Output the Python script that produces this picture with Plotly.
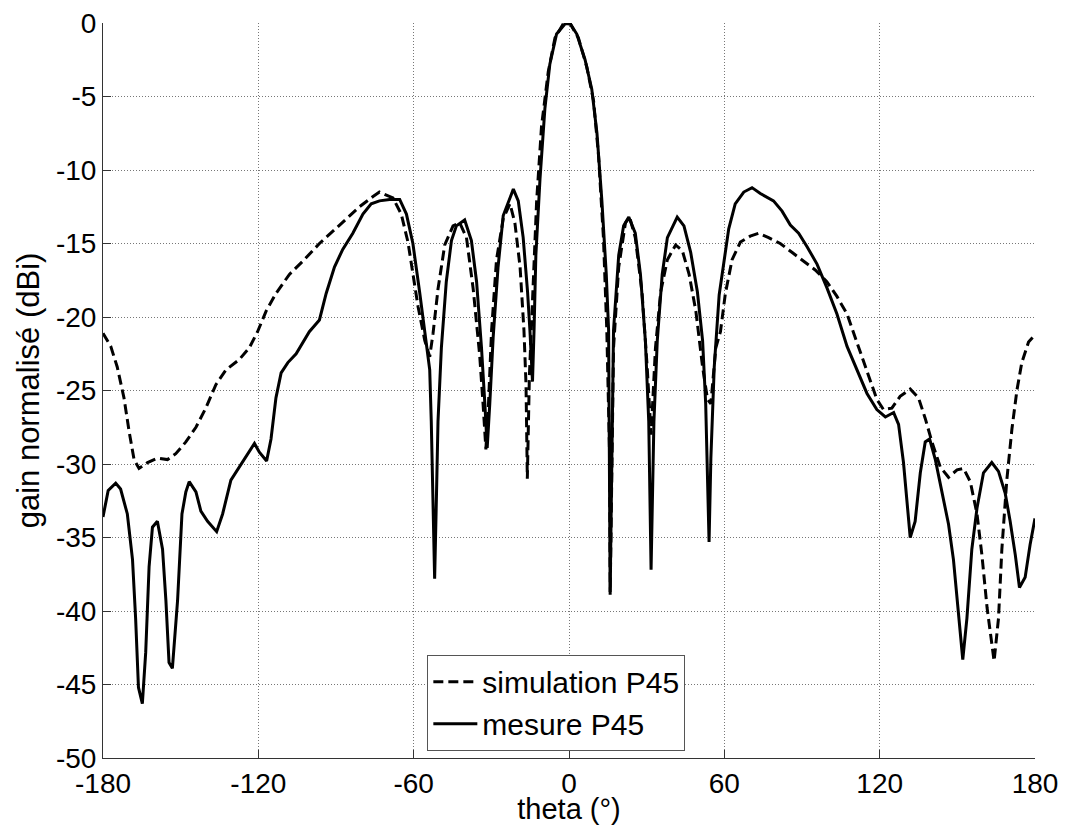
import plotly.graph_objects as go

# simulation P45 (dashed)
sim_theta = [
    -180, -177.0, -174.5, -171.9, -169.9, -168.0, -166.1, -162.8, -159.0, -155.1,
    -151.9, -148.0, -144.1, -140.3, -136.4, -132.5, -127.4, -123.5, -120.3, -117.0,
    -113.2, -108.0, -102.8, -96.4, -88.6, -80.9, -75.7, -73.2, -68.0, -64.8,
    -62.2, -59.7, -58.3, -55.7, -53.8, -52.5, -50.6, -48.0, -44.8, -42.2,
    -39.6, -37.0, -34.5, -33.2, -32.1, -31.1, -29.9, -28.0, -25.4, -22.8,
    -20.9, -18.9, -17.4, -16.6, -16.1, -15.3, -13.8, -12.5, -10.6, -8.0,
    -5.4, -2.2, 0.5, 3.6, 6.9, 9.5, 11.4, 13.3, 14.6, 15.7,
    15.9, 17.2, 19.2, 21.8, 23.4, 25.6, 28.2, 30.2, 31.7, 33.4,
    35.4, 38.0, 41.2, 43.8, 46.4, 49.0, 51.6, 53.5, 54.8, 56.7,
    58.5, 60.4, 63.0, 66.2, 70.0, 73.3, 77.1, 81.6, 86.1, 90.6,
    95.1, 99.6, 103.5, 107.4, 111.2, 115.1, 118.9, 121.5, 124.7, 127.9,
    131.8, 135.0, 137.6, 140.2, 143.4, 146.6, 149.9, 152.4, 155.0, 157.6,
    159.5, 161.5, 164.2, 165.9, 167.2, 169.1, 171.1, 173.0, 174.9, 177.5,
    180,
]
sim_gain = [
    -21.1, -22.0, -23.4, -25.5, -27.8, -29.7, -30.3, -29.9, -29.6, -29.7,
    -29.3, -28.5, -27.5, -26.2, -24.6, -23.6, -22.9, -22.1, -21.0, -19.6,
    -18.4, -17.1, -16.2, -15.0, -13.75, -12.5, -11.8, -11.5, -11.9, -13.0,
    -14.9, -17.7, -19.3, -21.6, -22.7, -21.1, -18.1, -15.1, -13.8, -13.6,
    -14.6, -18.1, -22.6, -25.9, -29.0, -25.9, -20.9, -16.1, -13.3, -12.3,
    -13.6, -16.6, -20.9, -24.6, -31.0, -24.0, -17.1, -12.1, -7.0, -3.3,
    -1.0, -0.05, -0.05, -1.0, -3.0, -5.3, -9.0, -14.6, -20.9, -29.6,
    -38.9, -22.1, -16.6, -13.6, -13.2, -14.6, -18.3, -23.4, -28.0, -22.1,
    -18.3, -16.1, -15.1, -15.5, -17.1, -19.6, -23.4, -25.6, -25.9, -22.1,
    -21.0, -18.4, -16.1, -14.9, -14.5, -14.3, -14.6, -15.0, -15.6, -16.2,
    -16.8, -17.6, -18.6, -19.8, -21.7, -23.8, -25.6, -26.3, -26.2, -25.4,
    -24.9, -25.5, -26.9, -28.5, -30.2, -30.9, -30.4, -30.3, -31.2, -33.4,
    -36.2, -39.8, -43.4, -40.5, -35.8, -31.1, -27.6, -25.0, -23.1, -21.7,
    -21.2,
]

# mesure P45 (solid)
meas_theta = [
    -180, -178.0, -175.1, -173.2, -170.6, -168.6, -167.4, -166.3, -164.8, -163.5,
    -162.2, -160.9, -159.0, -157.0, -155.7, -154.5, -153.2, -151.2, -149.5, -148.0,
    -146.7, -144.1, -142.2, -139.6, -136.1, -133.8, -130.6, -127.4, -124.8, -121.5,
    -119.6, -116.8, -115.1, -113.2, -111.2, -108.6, -105.4, -102.8, -100.3, -96.4,
    -93.8, -90.6, -87.4, -83.5, -79.6, -76.4, -73.2, -69.3, -65.4, -62.8,
    -60.3, -57.7, -55.1, -53.8, -53.2, -52.5, -51.9, -51.2, -50.6, -49.3,
    -47.4, -45.4, -43.5, -40.3, -37.7, -35.7, -33.8, -32.5, -31.6, -30.6,
    -29.3, -27.4, -25.4, -21.5, -19.6, -17.7, -16.0, -15.1, -14.1, -13.5,
    -12.8, -11.2, -9.3, -7.4, -4.8, -1.5, 0.5, 3.0, 6.2, 8.8,
    10.8, 12.7, 14.4, 15.3, 15.9, 17.2, 19.2, 21.1, 23.1, 25.6,
    27.6, 29.5, 30.8, 31.7, 32.8, 34.1, 36.0, 38.0, 41.8, 44.4,
    47.0, 49.6, 51.6, 52.8, 54.1, 54.8, 56.1, 58.0, 59.7, 61.7,
    64.2, 67.5, 70.7, 73.9, 79.0, 82.3, 85.5, 88.7, 91.9, 95.8,
    99.6, 103.5, 107.4, 111.2, 115.1, 118.9, 122.2, 125.4, 127.3, 129.2,
    130.5, 131.8, 133.7, 135.7, 137.6, 139.3, 141.5, 144.0, 146.6, 148.5,
    150.5, 152.1, 153.7, 155.6, 157.6, 160.1, 163.3, 165.9, 168.5, 170.4,
    172.4, 174.0, 176.2, 178.1, 180,
]
meas_gain = [
    -33.6, -31.8, -31.3, -31.7, -33.4, -36.5, -40.5, -45.2, -46.3, -42.8,
    -37.0, -34.3, -33.9, -35.8, -39.3, -43.5, -43.9, -39.3, -33.4, -31.9,
    -31.2, -31.9, -33.2, -33.9, -34.6, -33.4, -31.1, -30.2, -29.5, -28.6,
    -29.2, -29.8, -28.3, -25.5, -23.8, -23.1, -22.5, -21.7, -21.0, -20.2,
    -18.4, -16.6, -15.4, -14.3, -13.0, -12.3, -12.1, -12.0, -12.0, -13.0,
    -15.0, -18.3, -22.1, -23.6, -27.1, -32.2, -37.8, -32.2, -27.1, -22.1,
    -17.6, -14.8, -13.8, -13.4, -14.8, -17.6, -22.1, -25.9, -28.9, -25.9,
    -21.4, -16.6, -13.1, -11.3, -12.1, -14.6, -18.3, -20.9, -24.4, -20.9,
    -15.8, -10.6, -5.8, -2.8, -0.75, -0.05, -0.05, -0.75, -2.5, -4.5,
    -7.5, -12.1, -17.1, -20.9, -38.7, -20.9, -15.8, -13.8, -13.2, -14.3,
    -17.1, -21.6, -27.1, -37.2, -27.1, -21.6, -17.1, -14.6, -13.2, -13.8,
    -15.6, -18.3, -21.6, -25.9, -35.3, -29.6, -23.4, -18.5, -16.5, -14.0,
    -12.3, -11.5, -11.2, -11.6, -12.1, -12.8, -13.75, -14.3, -15.2, -16.4,
    -18.0, -19.8, -22.0, -23.6, -25.2, -26.3, -26.8, -26.5, -27.3, -29.9,
    -32.5, -35.0, -33.9, -30.6, -28.5, -28.3, -29.7, -31.8, -34.1, -36.5,
    -40.5, -43.3, -40.5, -35.8, -33.0, -30.6, -29.9, -30.5, -32.0, -33.9,
    -36.2, -38.4, -37.7, -35.5, -33.7,
]

x_ticks = [-180, -120, -60, 0, 60, 120, 180]
x_labels = ["-180", "-120", "-60", "0", "60", "120", "180"]
y_ticks = [0, -5, -10, -15, -20, -25, -30, -35, -40, -45, -50]
y_labels = ["0", "-5", "-10", "-15", "-20", "-25", "-30", "-35", "-40", "-45", "-50"]

FONT = "Liberation Sans, Arial, sans-serif"

fig = go.Figure()
fig.add_trace(go.Scatter(
    x=sim_theta, y=sim_gain, mode="lines", name="simulation P45",
    line=dict(color="black", width=3, dash="10px,5px"),
))
fig.add_trace(go.Scatter(
    x=meas_theta, y=meas_gain, mode="lines", name="mesure P45",
    line=dict(color="black", width=3),
))

# the page body adds an 8px margin, so the figure is sized to fit inside it
fig.update_layout(
    width=1052,
    height=817,
    margin=dict(l=95, r=25, t=15, b=67),
    paper_bgcolor="white",
    plot_bgcolor="white",
    font=dict(family=FONT, color="black", size=28),
    showlegend=True,
    legend=dict(
        x=0.348, y=0.01, xanchor="left", yanchor="bottom",
        bgcolor="white", bordercolor="#555", borderwidth=1,
        font=dict(size=30), tracegroupgap=0, itemwidth=44,
    ),
)

axis_style = dict(
    ticks="inside", ticklen=8, tickcolor="#333",
    showline=True, linecolor="#333", linewidth=1, mirror=False,
    showgrid=True, gridcolor="#777", gridwidth=1, griddash="1px,2px",
    zeroline=False, automargin=False, tickfont=dict(size=28),
    ticklabeloverflow="allow",
)
fig.update_xaxes(
    range=[-180, 180], tickmode="array", tickvals=x_ticks, ticktext=x_labels,
    title=dict(text="theta (°)", font=dict(size=29), standoff=8),
    **axis_style,
)
fig.update_yaxes(
    range=[-50, 0], tickmode="array", tickvals=y_ticks, ticktext=y_labels,
    title=dict(text="gain normalisé (dBi)", font=dict(size=31), standoff=7),
    **axis_style,
)

fig.write_html("out.html")
